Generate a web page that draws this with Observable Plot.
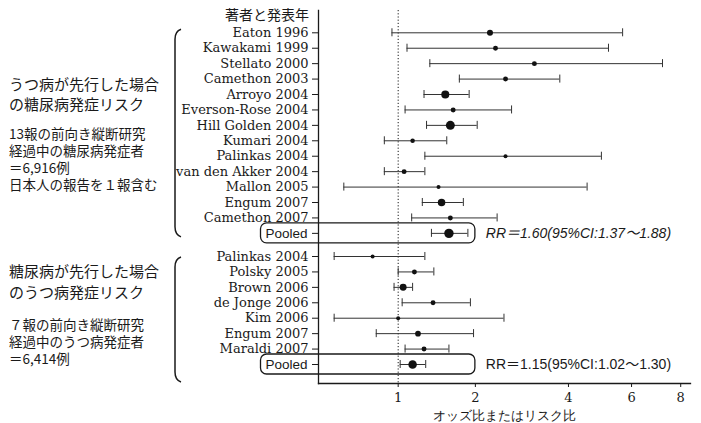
<!DOCTYPE html>
<html><head><meta charset="utf-8">
<script src="https://cdn.jsdelivr.net/npm/d3@7"></script>
<script src="https://cdn.jsdelivr.net/npm/@observablehq/plot@0.6"></script>
<style>body{margin:0;background:#fff} svg{display:block}</style>
</head><body><div id="chart"></div>
<script>
// Group 1: depression preceding -> diabetes risk
const studies1 = ["Eaton 1996","Kawakami 1999","Stellato 2000","Camethon 2003","Arroyo 2004","Everson-Rose 2004","Hill Golden 2004","Kumari 2004","Palinkas 2004","van den Akker 2004","Mallon 2005","Engum 2007","Camethon 2007","Pooled"];
const or1 = [2.25,2.35,3.15,2.54,1.55,1.66,1.62,1.15,2.54,1.06,1.46,1.50,1.62,1.60];
const lo1 = [0.94,1.09,1.35,1.75,1.28,1.07,1.31,0.87,1.29,0.87,0.56,1.26,1.14,1.37];
const hi1 = [5.68,5.20,7.21,3.77,1.90,2.66,2.03,1.57,4.97,1.29,4.53,1.81,2.38,1.88];
const weight1 = [9,6,6,6,16,6,20,5,4,6,4,14,6,22];
// Group 2: diabetes preceding -> depression risk
const studies2 = ["Palinkas 2004","Polsky 2005","Brown 2006","de Jonge 2006","Kim 2006","Engum 2007","Maraldi 2007","Pooled"];
const or2 = [0.77,1.17,1.05,1.39,1.00,1.21,1.28,1.15];
const lo2 = [0.50,1.00,0.96,1.04,0.50,0.80,1.07,1.02];
const hi2 = [1.29,1.40,1.15,1.92,2.51,1.97,1.60,1.30];
const weight2 = [4,6,12,6,4,8,6,18];
const xTicks = [1,2,4,6,8];
const header = "著者と発表年";
const xLabel = "オッズ比またはリスク比";
const note1 = ["うつ病が先行した場合","の糖尿病発症リスク"];
const body1 = ["13報の前向き縦断研究","経過中の糖尿病発症者","＝6,916例","日本人の報告を１報含む"];
const note2 = ["糖尿病が先行した場合","のうつ病発症リスク"];
const body2 = ["７報の前向き縦断研究","経過中のうつ病発症者","＝6,414例"];

const rows = [
  ...studies1.map((s,i)=>({label:s, or:or1[i], lo:lo1[i], hi:hi1[i], w:weight1[i], pos:i, g:1})),
  ...studies2.map((s,i)=>({label:s, or:or2[i], lo:lo2[i], hi:hi2[i], w:weight2[i], pos:14.5+i, g:2}))
];
const studyRows = rows.filter(d=>d.label!=="Pooled");
const pooledRows = rows.filter(d=>d.label==="Pooled");
const serif = "DejaVu Serif";
const ink = "#1a1a1a";

const plot = Plot.plot({
  width:701, height:423,
  marginLeft:318, marginRight:11, marginTop:10, marginBottom:40,
  style:{background:"#fff", color:ink, overflow:"visible"},
  x:{type:"pow", exponent:0.27, domain:[0.413,8.45], range:[318,690]},
  y:{domain:[0,21.5], range:[32.3,364], axis:null},
  r:{type:"sqrt", domain:[0,20], range:[0,4.5]},
  marks:[
    Plot.ruleX([1], {stroke:ink, strokeWidth:1, strokeDasharray:"1.2,2"}),
    Plot.frame({anchor:"left", stroke:ink, strokeWidth:1.3}),
    Plot.frame({anchor:"bottom", stroke:ink, strokeWidth:1.3}),
    Plot.axisY({ticks: rows.map(d=>d.pos), tickSize:6, tickFormat:()=>"", label:null, stroke:ink}),
    Plot.text(studyRows, {y:"pos", text:"label", frameAnchor:"left", textAnchor:"end", dx:-10, fontFamily:serif, fontSize:13, fill:ink}),
    Plot.text(pooledRows, {y:"pos", text:"label", frameAnchor:"left", textAnchor:"end", dx:-11, fontFamily:"Liberation Sans", fontSize:13.5, fill:ink}),
    Plot.axisX({ticks:xTicks, tickSize:4, tickPadding:5, fontFamily:serif, fontSize:13, label:xLabel, labelAnchor:"center", labelArrow:false, labelOffset:36, stroke:ink}),
    Plot.ruleY(rows, {y:"pos", x1:"lo", x2:"hi", stroke:"#333", strokeWidth:1}),
    Plot.ruleX(rows, {x:"lo", y1:d=>d.pos-0.26, y2:d=>d.pos+0.26, stroke:"#333", strokeWidth:1}),
    Plot.ruleX(rows, {x:"hi", y1:d=>d.pos-0.26, y2:d=>d.pos+0.26, stroke:"#333", strokeWidth:1}),
    Plot.dot(rows, {x:"or", y:"pos", r:"w", fill:"#111", stroke:null})
  ]
});
document.getElementById("chart").appendChild(plot);

const svg = d3.select(plot);
const xs = plot.scale("x"), ys = plot.scale("y");
const jp = "'Noto Sans CJK JP', sans-serif";

// header
svg.append("text").attr("x",309).attr("y",ys.apply(-1.1)).attr("dy","0.35em")
  .attr("text-anchor","end").attr("font-family",jp).attr("font-size",14).attr("fill",ink).text(header);

// pooled boxes and RR texts
pooledRows.forEach((d,i)=>{
  const cy = ys.apply(d.pos);
  const xr = xs.apply(2);
  svg.append("rect").attr("x",260.5).attr("y",cy-10).attr("width",xr-260.5).attr("height",20)
    .attr("rx",6).attr("fill","none").attr("stroke",ink).attr("stroke-width",1.3);
  svg.append("text").attr("x",xr+11).attr("y",cy).attr("dy","0.35em").attr("text-anchor","start")
    .attr("font-family","Liberation Sans, 'Noto Sans CJK JP'").attr("font-size",14).attr("fill",ink)
    .attr("font-style", i===0 ? "italic" : "normal")
    .text(`RR＝${d.or.toFixed(2)}(95%CI:${d.lo.toFixed(2)}～${d.hi.toFixed(2)})`);
});

// braces
function brace(y0,y1){
  svg.append("path")
    .attr("d",`M181,${y0} Q175,${y0+2} 175,${y0+10} L175,${y1-10} Q175,${y1-2} 181,${y1}`)
    .attr("fill","none").attr("stroke",ink).attr("stroke-width",1.5);
}
brace(ys.apply(0)-3, ys.apply(13)+4);
brace(ys.apply(14.5)+1, ys.apply(21.5)+18);

// left notes
function lines(arr, x, y0, step, size){
  arr.forEach((t,i)=>svg.append("text").attr("x",x).attr("y",y0+i*step).attr("dy","0.35em")
    .attr("text-anchor","start").attr("font-family",jp).attr("font-size",size).attr("fill",ink).text(t));
}
lines(note1, 9, 85, 20, 15);
lines(body1, 9, 134, 17, 13.5);
lines(note2, 9, 272, 21, 15);
lines(body2, 9, 325, 17, 13.5);
</script></body></html>
